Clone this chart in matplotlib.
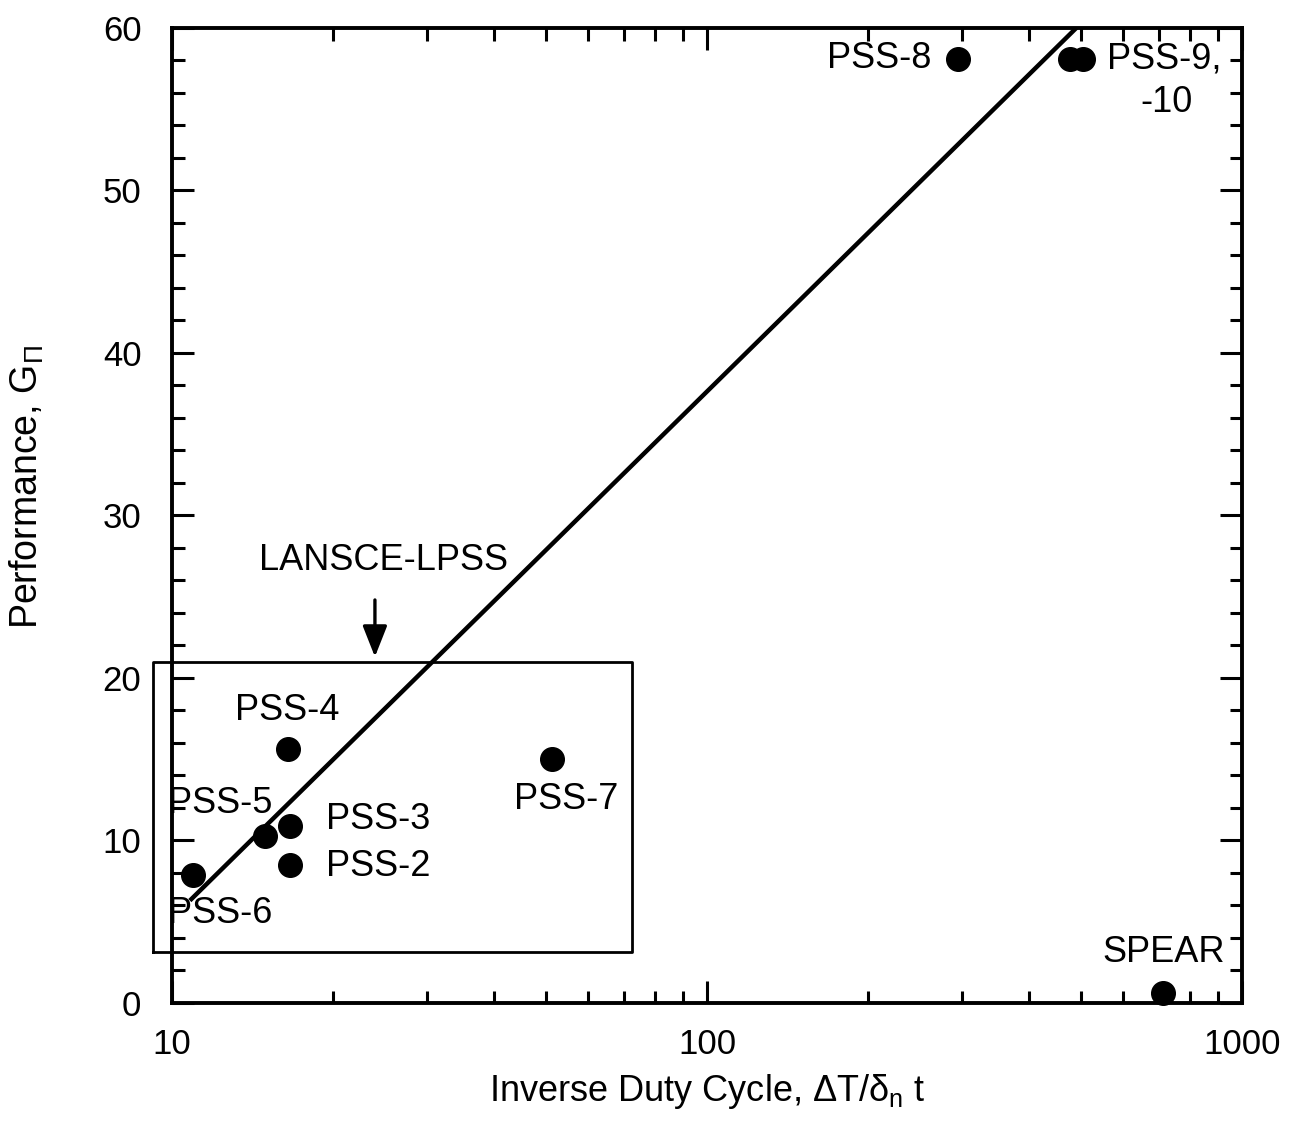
import matplotlib
matplotlib.use("Agg")
import matplotlib.pyplot as plt
import numpy as np

plt.rcParams['font.family'] = ['Liberation Sans', 'DejaVu Sans']
plt.rcParams['mathtext.fontset'] = 'custom'
plt.rcParams['mathtext.rm'] = 'Liberation Sans'
plt.rcParams['mathtext.it'] = 'Liberation Sans'
plt.rcParams['mathtext.bf'] = 'Liberation Sans:bold'

# Data
names = ['PSS-2', 'PSS-3', 'PSS-4', 'PSS-5', 'PSS-6', 'PSS-7', 'PSS-8', 'PSS-9', 'PSS-10', 'SPEAR']
inv_duty = [16.6, 16.6, 16.5, 14.9, 10.95, 51.3, 294, 477, 504, 712]
perf = [8.5, 10.9, 15.6, 10.3, 7.9, 15.0, 58.1, 58.1, 58.1, 0.6]

fit_x = [10.8, 490]
fit_y = [6.3, 60.0]

box_x = [9.22, 72.4, 72.4, 9.22, 9.22]
box_y = [3.15, 3.15, 21.0, 21.0, 3.15]

x_ticks = [10, 100, 1000]
x_tick_labels = ['10', '100', '1000']
y_ticks = [0, 10, 20, 30, 40, 50, 60]

fig = plt.figure(figsize=(12.98, 11.23), dpi=100)
ax = fig.add_axes([0.1325, 0.1069, 0.8244, 0.8682])

ax.set_xscale('log')
ax.set_xlim(10, 1000)
ax.set_ylim(0, 60)

ax.plot(fit_x, fit_y, color='black', lw=3.2, solid_capstyle='butt')
ax.plot(inv_duty, perf, 'o', color='black', ms=17, clip_on=False, zorder=5)
ax.plot(box_x, box_y, color='black', lw=2.0, clip_on=False)

fs = 26
ax.text(263, 58.1, 'PSS-8', ha='right', va='center', fontsize=fs)
ax.text(559, 58.1, 'PSS-9,', ha='left', va='center', fontsize=fs)
ax.text(810, 55.4, '-10', ha='right', va='center', fontsize=fs)
ax.text(715, 3.1, 'SPEAR', ha='center', va='center', fontsize=fs)
ax.text(16.4, 18.0, 'PSS-4', ha='center', va='center', fontsize=fs)
ax.text(9.85, 12.3, 'PSS-5', ha='left', va='center', fontsize=fs)
ax.text(19.4, 11.3, 'PSS-3', ha='left', va='center', fontsize=fs)
ax.text(19.4, 8.4, 'PSS-2', ha='left', va='center', fontsize=fs)
ax.text(9.85, 5.5, 'PSS-6', ha='left', va='center', fontsize=fs)
ax.text(54.5, 12.5, 'PSS-7', ha='center', va='center', fontsize=fs)
ax.text(24.8, 27.2, 'LANSCE-LPSS', ha='center', va='center', fontsize=fs)
ax.annotate('', xy=(23.95, 21.3), xytext=(23.95, 24.8),
            arrowprops=dict(arrowstyle='-|>,head_length=1.9,head_width=0.75',
                            color='black', lw=2.4, shrinkA=0, shrinkB=0))

ax.set_yticks(y_ticks)
ax.set_yticks(np.arange(0, 61, 2), minor=True)
ax.set_xticks(x_ticks)
ax.set_xticklabels(x_tick_labels)

for s in ax.spines.values():
    s.set_linewidth(2.8)
ax.tick_params(which='both', direction='in', top=True, right=True, width=2.2,
               labelsize=25)
ax.tick_params(which='major', length=16)
ax.tick_params(which='minor', length=9)
ax.tick_params(axis='y', which='major', pad=22)
ax.tick_params(axis='x', which='major', pad=18)

ax.set_xlabel(r'Inverse Duty Cycle, $\Delta$T/$\delta_{\rm n}$ t', fontsize=26, labelpad=8)
ax.set_ylabel(r'Performance, G$_{\Pi}$', fontsize=27)
ax.yaxis.set_label_coords(-0.118, 0.529)

fig.savefig('out.png', dpi=100, facecolor='white')
